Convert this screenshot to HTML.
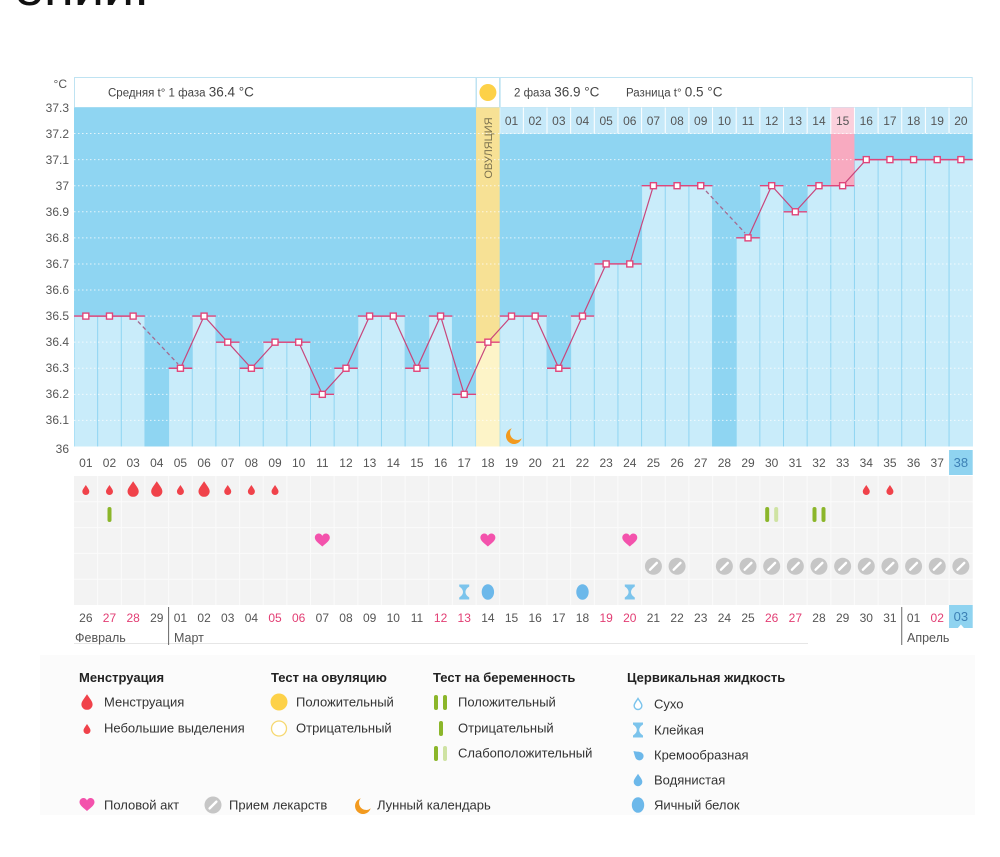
<!DOCTYPE html>
<html><head><meta charset="utf-8"><style>
html,body{margin:0;padding:0;background:#fff;}
svg{display:block;font-family:"Liberation Sans","DejaVu Sans",sans-serif;}
</style></head><body>
<svg width="1000" height="857" viewBox="0 0 1000 857" xmlns="http://www.w3.org/2000/svg">
<defs>
<g id="mk"><line x1="-11.8" y1="0" x2="11.8" y2="0" stroke="#e0457a" stroke-width="1.4"/><rect x="-3" y="-3" width="6" height="6" fill="#fff" stroke="#e0457a" stroke-width="1.4"/></g>
<path id="dp" d="M0,-10 C3,-5 7,-1 7,3 A7,7 0 0 1 -7,3 C-7,-1 -3,-5 0,-10 Z"/>
<path id="ht" d="M0,6 C-2,4 -7.5,0.5 -7.5,-2.8 C-7.5,-5.8 -5,-7 -3.6,-7 C-2,-7 -0.7,-6 0,-4.6 C0.7,-6 2,-7 3.6,-7 C5,-7 7.5,-5.8 7.5,-2.8 C7.5,0.5 2,4 0,6 Z" fill="#f352ac"/>
<g id="pl"><circle r="8.5" fill="#c6c6c6"/><line x1="-3.4" y1="3.4" x2="3.4" y2="-3.4" stroke="#fff" stroke-width="2.4" stroke-linecap="round"/></g>
<path id="hg" d="M-5,-7.5 H5 V-5.5 Q1.2,-3 1.2,0 Q1.2,3 5,5.5 V7.5 H-5 V5.5 Q-1.2,3 -1.2,0 Q-1.2,-3 -5,-5.5 Z" fill="#7cc4ec"/>
<path id="mn" d="M7.69,2.19 A8,8 0 1 1 -2.19,-7.69 A7,7 0 0 0 7.69,2.19 Z" fill="#f29a1f"/>
</defs>

<!-- cropped title -->
<text x="14" y="5" font-size="54" fill="#111">ении.</text>

<!-- y axis labels -->
<g font-size="12" fill="#555" text-anchor="end">
<text x="67" y="88">°C</text>
<text x="69" y="112">37.3</text>
<text x="69" y="138">37.2</text>
<text x="69" y="164">37.1</text>
<text x="69" y="190">37</text>
<text x="69" y="216">36.9</text>
<text x="69" y="242">36.8</text>
<text x="69" y="268">36.7</text>
<text x="69" y="294">36.6</text>
<text x="69" y="320">36.5</text>
<text x="69" y="346">36.4</text>
<text x="69" y="372">36.3</text>
<text x="69" y="398">36.2</text>
<text x="69" y="424">36.1</text>
<text x="69" y="453">36</text>
</g>

<!-- header boxes -->
<rect x="74.5" y="77.5" width="401.5" height="30" fill="#fff" stroke="#bfe3f2"/>
<rect x="476.5" y="77.5" width="23" height="30" fill="#fff" stroke="#bfe3f2"/>
<circle cx="487.9" cy="92.5" r="8.5" fill="#fdd148"/>
<rect x="500.2" y="77.5" width="472" height="30" fill="#fff" stroke="#bfe3f2"/>
<g fill="#444">
<text x="108" y="96.5" font-size="11.5">Средняя t° 1 фаза <tspan font-size="13.5">36.4 °C</tspan></text>
<text x="514" y="96.5" font-size="11.5">2 фаза <tspan font-size="13.5">36.9 °C</tspan></text>
<text x="626" y="96.5" font-size="11.5">Разница t° <tspan font-size="13.5">0.5 °C</tspan></text>
</g>

<!-- chart background (dark) -->
<rect x="74" y="107.46" width="898.7" height="339.04" fill="#8fd5f2"/>

<!-- light columns -->
<g fill="#c9ecfa">
<rect x="74.5" y="316.1" width="22.65" height="130.4"/>
<rect x="98.15" y="316.1" width="22.65" height="130.4"/>
<rect x="121.8" y="316.1" width="22.65" height="130.4"/>
<rect x="169.1" y="368.26" width="22.65" height="78.24"/>
<rect x="192.75" y="316.1" width="22.65" height="130.4"/>
<rect x="216.4" y="342.18" width="22.65" height="104.32"/>
<rect x="240.05" y="368.26" width="22.65" height="78.24"/>
<rect x="263.7" y="342.18" width="22.65" height="104.32"/>
<rect x="287.35" y="342.18" width="22.65" height="104.32"/>
<rect x="311" y="394.34" width="22.65" height="52.16"/>
<rect x="334.65" y="368.26" width="22.65" height="78.24"/>
<rect x="358.3" y="316.1" width="22.65" height="130.4"/>
<rect x="381.95" y="316.1" width="22.65" height="130.4"/>
<rect x="405.6" y="368.26" width="22.65" height="78.24"/>
<rect x="429.25" y="316.1" width="22.65" height="130.4"/>
<rect x="452.9" y="394.34" width="22.65" height="52.16"/>
<rect x="500.2" y="316.1" width="22.65" height="130.4"/>
<rect x="523.85" y="316.1" width="22.65" height="130.4"/>
<rect x="547.5" y="368.26" width="22.65" height="78.24"/>
<rect x="571.15" y="316.1" width="22.65" height="130.4"/>
<rect x="594.8" y="263.94" width="22.65" height="182.56"/>
<rect x="618.45" y="263.94" width="22.65" height="182.56"/>
<rect x="642.1" y="185.7" width="22.65" height="260.8"/>
<rect x="665.75" y="185.7" width="22.65" height="260.8"/>
<rect x="689.4" y="185.7" width="22.65" height="260.8"/>
<rect x="736.7" y="237.86" width="22.65" height="208.64"/>
<rect x="760.35" y="185.7" width="22.65" height="260.8"/>
<rect x="784" y="211.78" width="22.65" height="234.72"/>
<rect x="807.65" y="185.7" width="22.65" height="260.8"/>
<rect x="831.3" y="185.7" width="22.65" height="260.8"/>
<rect x="854.95" y="159.62" width="22.65" height="286.88"/>
<rect x="878.6" y="159.62" width="22.65" height="286.88"/>
<rect x="902.25" y="159.62" width="22.65" height="286.88"/>
<rect x="925.9" y="159.62" width="22.65" height="286.88"/>
<rect x="949.55" y="159.62" width="23.15" height="286.88"/>
</g>

<!-- pink column 33 -->
<rect x="830.8" y="107.46" width="23.65" height="78.24" fill="#f8aac0"/>

<!-- ovulation column -->
<rect x="476.05" y="107.46" width="23.65" height="234.72" fill="#f7e195"/>
<rect x="476.05" y="342.18" width="23.65" height="104.32" fill="#fdf4c8"/>

<!-- second phase day row -->
<rect x="499.7" y="107.46" width="473" height="26.08" fill="#fff"/>
<g fill="#c6e9f9">
<rect x="500.2" y="107.46" width="22.65" height="25.6"/>
<rect x="523.85" y="107.46" width="22.65" height="25.6"/>
<rect x="547.5" y="107.46" width="22.65" height="25.6"/>
<rect x="571.15" y="107.46" width="22.65" height="25.6"/>
<rect x="594.8" y="107.46" width="22.65" height="25.6"/>
<rect x="618.45" y="107.46" width="22.65" height="25.6"/>
<rect x="642.1" y="107.46" width="22.65" height="25.6"/>
<rect x="665.75" y="107.46" width="22.65" height="25.6"/>
<rect x="689.4" y="107.46" width="22.65" height="25.6"/>
<rect x="713.05" y="107.46" width="22.65" height="25.6"/>
<rect x="736.7" y="107.46" width="22.65" height="25.6"/>
<rect x="760.35" y="107.46" width="22.65" height="25.6"/>
<rect x="784" y="107.46" width="22.65" height="25.6"/>
<rect x="807.65" y="107.46" width="22.65" height="25.6"/>
<rect x="831.3" y="107.46" width="22.65" height="25.6" fill="#fbd0dc"/>
<rect x="854.95" y="107.46" width="22.65" height="25.6"/>
<rect x="878.6" y="107.46" width="22.65" height="25.6"/>
<rect x="902.25" y="107.46" width="22.65" height="25.6"/>
<rect x="925.9" y="107.46" width="22.65" height="25.6"/>
<rect x="949.55" y="107.46" width="23.15" height="25.6"/>
</g>
<g font-size="12" fill="#555" text-anchor="middle">
<text x="511.53" y="125">01</text><text x="535.18" y="125">02</text><text x="558.83" y="125">03</text><text x="582.48" y="125">04</text><text x="606.13" y="125">05</text><text x="629.78" y="125">06</text><text x="653.43" y="125">07</text><text x="677.08" y="125">08</text><text x="700.73" y="125">09</text><text x="724.38" y="125">10</text><text x="748.03" y="125">11</text><text x="771.68" y="125">12</text><text x="795.33" y="125">13</text><text x="818.98" y="125">14</text><text x="842.63" y="125">15</text><text x="866.28" y="125">16</text><text x="889.93" y="125">17</text><text x="913.58" y="125">18</text><text x="937.23" y="125">19</text><text x="960.88" y="125">20</text>
</g>

<!-- dotted grid -->
<g stroke="#ffffff" stroke-width="1" stroke-dasharray="1.5 2.5" opacity="0.75">
<line x1="74" y1="133.54" x2="972.7" y2="133.54"/>
<line x1="74" y1="159.62" x2="972.7" y2="159.62"/>
<line x1="74" y1="185.7" x2="972.7" y2="185.7"/>
<line x1="74" y1="211.78" x2="972.7" y2="211.78"/>
<line x1="74" y1="237.86" x2="972.7" y2="237.86"/>
<line x1="74" y1="263.94" x2="972.7" y2="263.94"/>
<line x1="74" y1="290.02" x2="972.7" y2="290.02"/>
<line x1="74" y1="316.1" x2="972.7" y2="316.1"/>
<line x1="74" y1="342.18" x2="972.7" y2="342.18"/>
<line x1="74" y1="368.26" x2="972.7" y2="368.26"/>
<line x1="74" y1="394.34" x2="972.7" y2="394.34"/>
<line x1="74" y1="420.42" x2="972.7" y2="420.42"/>
</g>

<!-- ovulation label -->
<text transform="translate(491.8,148) rotate(-90)" font-size="11" fill="#7d7350" text-anchor="middle">ОВУЛЯЦИЯ</text>

<!-- lines -->
<g fill="none" stroke="#c8467c" stroke-width="1.2">
<polyline points="85.83,316.1 109.48,316.1 133.13,316.1"/>
<polyline points="180.43,368.26 204.08,316.1 227.73,342.18 251.38,368.26 275.03,342.18 298.68,342.18 322.33,394.34 345.98,368.26 369.63,316.1 393.28,316.1 416.93,368.26 440.58,316.1 464.23,394.34 487.88,342.18 511.53,316.1 535.18,316.1 558.83,368.26 582.48,316.1 606.13,263.94 629.78,263.94 653.43,185.7 677.08,185.7 700.73,185.7"/>
<polyline points="748.03,237.86 771.68,185.7 795.33,211.78 818.98,185.7 842.63,185.7 866.28,159.62 889.93,159.62 913.58,159.62 937.23,159.62 960.88,159.62"/>
</g>
<g fill="none" stroke="#a56a90" stroke-width="1.3" stroke-dasharray="4 3">
<line x1="138" y1="321.5" x2="178" y2="364"/>
<line x1="706" y1="191" x2="745" y2="233"/>
</g>

<!-- markers -->
<use href="#mk" x="85.83" y="316.1"/><use href="#mk" x="109.48" y="316.1"/><use href="#mk" x="133.13" y="316.1"/>
<use href="#mk" x="180.43" y="368.26"/><use href="#mk" x="204.08" y="316.1"/><use href="#mk" x="227.73" y="342.18"/><use href="#mk" x="251.38" y="368.26"/><use href="#mk" x="275.03" y="342.18"/><use href="#mk" x="298.68" y="342.18"/><use href="#mk" x="322.33" y="394.34"/><use href="#mk" x="345.98" y="368.26"/><use href="#mk" x="369.63" y="316.1"/><use href="#mk" x="393.28" y="316.1"/><use href="#mk" x="416.93" y="368.26"/><use href="#mk" x="440.58" y="316.1"/><use href="#mk" x="464.23" y="394.34"/><use href="#mk" x="487.88" y="342.18"/><use href="#mk" x="511.53" y="316.1"/><use href="#mk" x="535.18" y="316.1"/><use href="#mk" x="558.83" y="368.26"/><use href="#mk" x="582.48" y="316.1"/><use href="#mk" x="606.13" y="263.94"/><use href="#mk" x="629.78" y="263.94"/><use href="#mk" x="653.43" y="185.7"/><use href="#mk" x="677.08" y="185.7"/><use href="#mk" x="700.73" y="185.7"/>
<use href="#mk" x="748.03" y="237.86"/><use href="#mk" x="771.68" y="185.7"/><use href="#mk" x="795.33" y="211.78"/><use href="#mk" x="818.98" y="185.7"/><use href="#mk" x="842.63" y="185.7"/><use href="#mk" x="866.28" y="159.62"/><use href="#mk" x="889.93" y="159.62"/><use href="#mk" x="913.58" y="159.62"/><use href="#mk" x="937.23" y="159.62"/><use href="#mk" x="960.88" y="159.62"/>

<!-- moon -->
<use href="#mn" x="514" y="436"/>

<!-- day numbers row -->
<rect x="949.05" y="450" width="23.65" height="25" fill="#8fd3f0"/>
<g font-size="12" fill="#555" text-anchor="middle">
<text x="85.83" y="467">01</text><text x="109.48" y="467">02</text><text x="133.13" y="467">03</text><text x="156.78" y="467">04</text><text x="180.43" y="467">05</text><text x="204.08" y="467">06</text><text x="227.73" y="467">07</text><text x="251.38" y="467">08</text><text x="275.03" y="467">09</text><text x="298.68" y="467">10</text><text x="322.33" y="467">11</text><text x="345.98" y="467">12</text><text x="369.63" y="467">13</text><text x="393.28" y="467">14</text><text x="416.93" y="467">15</text><text x="440.58" y="467">16</text><text x="464.23" y="467">17</text><text x="487.88" y="467">18</text><text x="511.53" y="467">19</text><text x="535.18" y="467">20</text><text x="558.83" y="467">21</text><text x="582.48" y="467">22</text><text x="606.13" y="467">23</text><text x="629.78" y="467">24</text><text x="653.43" y="467">25</text><text x="677.08" y="467">26</text><text x="700.73" y="467">27</text><text x="724.38" y="467">28</text><text x="748.03" y="467">29</text><text x="771.68" y="467">30</text><text x="795.33" y="467">31</text><text x="818.98" y="467">32</text><text x="842.63" y="467">33</text><text x="866.28" y="467">34</text><text x="889.93" y="467">35</text><text x="913.58" y="467">36</text><text x="937.23" y="467">37</text><text x="960.88" y="467" fill="#3d80b5" font-size="13">38</text>
</g>

<!-- icon grid -->
<rect x="74" y="476" width="898.7" height="129" fill="#f3f3f3"/>
<g stroke="#fbfbfb" stroke-width="1">
<line x1="74" y1="501.8" x2="972.7" y2="501.8"/><line x1="74" y1="527.6" x2="972.7" y2="527.6"/><line x1="74" y1="553.4" x2="972.7" y2="553.4"/><line x1="74" y1="579.2" x2="972.7" y2="579.2"/>
<line x1="97.65" y1="476" x2="97.65" y2="605"/><line x1="121.3" y1="476" x2="121.3" y2="605"/><line x1="144.95" y1="476" x2="144.95" y2="605"/><line x1="168.6" y1="476" x2="168.6" y2="605"/><line x1="192.25" y1="476" x2="192.25" y2="605"/><line x1="215.9" y1="476" x2="215.9" y2="605"/><line x1="239.55" y1="476" x2="239.55" y2="605"/><line x1="263.2" y1="476" x2="263.2" y2="605"/><line x1="286.85" y1="476" x2="286.85" y2="605"/><line x1="310.5" y1="476" x2="310.5" y2="605"/><line x1="334.15" y1="476" x2="334.15" y2="605"/><line x1="357.8" y1="476" x2="357.8" y2="605"/><line x1="381.45" y1="476" x2="381.45" y2="605"/><line x1="405.1" y1="476" x2="405.1" y2="605"/><line x1="428.75" y1="476" x2="428.75" y2="605"/><line x1="452.4" y1="476" x2="452.4" y2="605"/><line x1="476.05" y1="476" x2="476.05" y2="605"/><line x1="499.7" y1="476" x2="499.7" y2="605"/><line x1="523.35" y1="476" x2="523.35" y2="605"/><line x1="547" y1="476" x2="547" y2="605"/><line x1="570.65" y1="476" x2="570.65" y2="605"/><line x1="594.3" y1="476" x2="594.3" y2="605"/><line x1="617.95" y1="476" x2="617.95" y2="605"/><line x1="641.6" y1="476" x2="641.6" y2="605"/><line x1="665.25" y1="476" x2="665.25" y2="605"/><line x1="688.9" y1="476" x2="688.9" y2="605"/><line x1="712.55" y1="476" x2="712.55" y2="605"/><line x1="736.2" y1="476" x2="736.2" y2="605"/><line x1="759.85" y1="476" x2="759.85" y2="605"/><line x1="783.5" y1="476" x2="783.5" y2="605"/><line x1="807.15" y1="476" x2="807.15" y2="605"/><line x1="830.8" y1="476" x2="830.8" y2="605"/><line x1="854.45" y1="476" x2="854.45" y2="605"/><line x1="878.1" y1="476" x2="878.1" y2="605"/><line x1="901.75" y1="476" x2="901.75" y2="605"/><line x1="925.4" y1="476" x2="925.4" y2="605"/><line x1="949.05" y1="476" x2="949.05" y2="605"/>
</g>

<!-- row 1 drops -->
<g fill="#f0424a">
<use href="#dp" transform="translate(85.83,490) scale(0.5)"/>
<use href="#dp" transform="translate(109.48,490) scale(0.5)"/>
<use href="#dp" transform="translate(133.13,489) scale(0.8,0.78)"/>
<use href="#dp" transform="translate(156.78,489) scale(0.8,0.78)"/>
<use href="#dp" transform="translate(180.43,490) scale(0.5)"/>
<use href="#dp" transform="translate(204.08,489) scale(0.8,0.78)"/>
<use href="#dp" transform="translate(227.73,490) scale(0.5)"/>
<use href="#dp" transform="translate(251.38,490) scale(0.5)"/>
<use href="#dp" transform="translate(275.03,490) scale(0.5)"/>
<use href="#dp" transform="translate(866.28,490) scale(0.5)"/>
<use href="#dp" transform="translate(889.93,490) scale(0.5)"/>
</g>

<!-- row 2 tests -->
<rect x="107.5" y="507" width="4" height="15" rx="2" fill="#8bb62a"/>
<rect x="765.2" y="507" width="4" height="15" rx="2" fill="#8bb62a"/>
<rect x="774.2" y="507" width="4" height="15" rx="2" fill="#cfe3a3"/>
<rect x="812.5" y="507" width="4" height="15" rx="2" fill="#8bb62a"/>
<rect x="821.5" y="507" width="4" height="15" rx="2" fill="#8bb62a"/>

<!-- row 3 hearts -->
<use href="#ht" x="322.33" y="540.5"/>
<use href="#ht" x="487.88" y="540.5"/>
<use href="#ht" x="629.78" y="540.5"/>

<!-- row 4 pills -->
<use href="#pl" x="653.43" y="566.3"/><use href="#pl" x="677.08" y="566.3"/>
<use href="#pl" x="724.38" y="566.3"/><use href="#pl" x="748.03" y="566.3"/><use href="#pl" x="771.68" y="566.3"/><use href="#pl" x="795.33" y="566.3"/><use href="#pl" x="818.98" y="566.3"/><use href="#pl" x="842.63" y="566.3"/><use href="#pl" x="866.28" y="566.3"/><use href="#pl" x="889.93" y="566.3"/><use href="#pl" x="913.58" y="566.3"/><use href="#pl" x="937.23" y="566.3"/><use href="#pl" x="960.88" y="566.3"/>

<!-- row 5 cervical -->
<use href="#hg" x="464.23" y="592"/>
<ellipse cx="487.88" cy="592" rx="6.2" ry="7.8" fill="#6cb8ea"/>
<ellipse cx="582.48" cy="592" rx="6.2" ry="7.8" fill="#6cb8ea"/>
<use href="#hg" x="629.78" y="592"/>

<!-- dates row -->
<rect x="949.05" y="605" width="23.65" height="23" fill="#8fd3f0"/>
<path d="M957.9,628 L960.9,624.5 L963.9,628 Z" fill="#fff"/>
<g font-size="12" fill="#555" text-anchor="middle">
<text x="85.83" y="622">26</text><text x="109.48" y="622" fill="#e23d73">27</text><text x="133.13" y="622" fill="#e23d73">28</text><text x="156.78" y="622">29</text><text x="180.43" y="622">01</text><text x="204.08" y="622">02</text><text x="227.73" y="622">03</text><text x="251.38" y="622">04</text><text x="275.03" y="622" fill="#e23d73">05</text><text x="298.68" y="622" fill="#e23d73">06</text><text x="322.33" y="622">07</text><text x="345.98" y="622">08</text><text x="369.63" y="622">09</text><text x="393.28" y="622">10</text><text x="416.93" y="622">11</text><text x="440.58" y="622" fill="#e23d73">12</text><text x="464.23" y="622" fill="#e23d73">13</text><text x="487.88" y="622">14</text><text x="511.53" y="622">15</text><text x="535.18" y="622">16</text><text x="558.83" y="622">17</text><text x="582.48" y="622">18</text><text x="606.13" y="622" fill="#e23d73">19</text><text x="629.78" y="622" fill="#e23d73">20</text><text x="653.43" y="622">21</text><text x="677.08" y="622">22</text><text x="700.73" y="622">23</text><text x="724.38" y="622">24</text><text x="748.03" y="622">25</text><text x="771.68" y="622" fill="#e23d73">26</text><text x="795.33" y="622" fill="#e23d73">27</text><text x="818.98" y="622">28</text><text x="842.63" y="622">29</text><text x="866.28" y="622">30</text><text x="889.93" y="622">31</text><text x="913.58" y="622">01</text><text x="937.23" y="622" fill="#e23d73">02</text><text x="960.88" y="621" fill="#3d80b5" font-size="13">03</text>
</g>
<line x1="74" y1="643.5" x2="808" y2="643.5" stroke="#e6e6e6"/>
<line x1="168.6" y1="607" x2="168.6" y2="645" stroke="#666"/>
<line x1="901.75" y1="607" x2="901.75" y2="645" stroke="#666"/>
<g font-size="12.5" fill="#555">
<text x="75" y="642">Февраль</text>
<text x="174" y="642">Март</text>
<text x="907" y="642">Апрель</text>
</g>

<!-- legend -->
<rect x="40" y="655" width="935" height="160" fill="#fbfbfb"/>
<g font-size="13" fill="#222" font-weight="bold">
<text x="79" y="682">Менструация</text>
<text x="271" y="682">Тест на овуляцию</text>
<text x="433" y="682">Тест на беременность</text>
<text x="627" y="682">Цервикальная жидкость</text>
</g>
<g font-size="13" fill="#333">
<text x="104" y="706.5">Менструация</text>
<text x="104" y="732.5">Небольшие выделения</text>
<text x="296" y="706.5">Положительный</text>
<text x="296" y="732.5">Отрицательный</text>
<text x="458" y="706.5">Положительный</text>
<text x="458" y="732.5">Отрицательный</text>
<text x="458" y="757.5">Слабоположительный</text>
<text x="654" y="708.5">Сухо</text>
<text x="654" y="734.5">Клейкая</text>
<text x="654" y="759.5">Кремообразная</text>
<text x="654" y="784.5">Водянистая</text>
<text x="654" y="809.5">Яичный белок</text>
<text x="104" y="809.5">Половой акт</text>
<text x="229" y="809.5">Прием лекарств</text>
<text x="377" y="809.5">Лунный календарь</text>
</g>
<g fill="#f0424a">
<use href="#dp" transform="translate(87,702) scale(0.8,0.78)"/>
<use href="#dp" transform="translate(87,729) scale(0.5)"/>
</g>
<circle cx="279" cy="702" r="8.5" fill="#fdd148"/>
<circle cx="279" cy="728.5" r="7.5" fill="#fff" stroke="#f6d870" stroke-width="1.3"/>
<rect x="434" y="695" width="4" height="15" rx="2" fill="#8bb62a"/>
<rect x="443" y="695" width="4" height="15" rx="2" fill="#8bb62a"/>
<rect x="439" y="721" width="4" height="15" rx="2" fill="#8bb62a"/>
<rect x="434" y="746" width="4" height="15" rx="2" fill="#8bb62a"/>
<rect x="443" y="746" width="4" height="15" rx="2" fill="#cfe3a3"/>
<use href="#dp" transform="translate(638,704) scale(0.55)" fill="#fff" stroke="#7cc4ec" stroke-width="2.6"/>
<use href="#hg" x="638" y="730"/>
<use href="#dp" transform="translate(638,755) rotate(-50) scale(0.6)" fill="#6cb8ea"/>
<use href="#dp" transform="translate(638,780) scale(0.62)" fill="#6cb8ea"/>
<ellipse cx="638" cy="805" rx="6.2" ry="7.8" fill="#6cb8ea"/>
<use href="#ht" x="87" y="805"/>
<use href="#pl" x="213" y="805"/>
<use href="#mn" x="363" y="806"/>
</svg>
</body></html>
